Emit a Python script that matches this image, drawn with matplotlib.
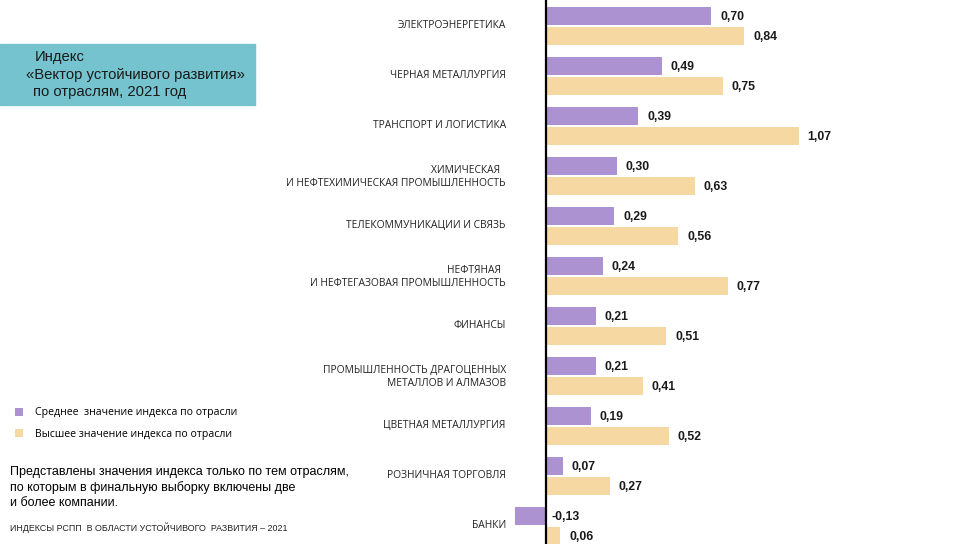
import numpy as np
import matplotlib
matplotlib.use("Agg")
import matplotlib.pyplot as plt
from matplotlib.patches import Rectangle

categories = [
    "ЭЛЕКТРОЭНЕРГЕТИКА",
    "ЧЕРНАЯ МЕТАЛЛУРГИЯ",
    "ТРАНСПОРТ И ЛОГИСТИКА",
    "ХИМИЧЕСКАЯ  \nИ НЕФТЕХИМИЧЕСКАЯ ПРОМЫШЛЕННОСТЬ",
    "ТЕЛЕКОММУНИКАЦИИ И СВЯЗЬ",
    "НЕФТЯНАЯ  \nИ НЕФТЕГАЗОВАЯ ПРОМЫШЛЕННОСТЬ",
    "ФИНАНСЫ",
    "ПРОМЫШЛЕННОСТЬ ДРАГОЦЕННЫХ\nМЕТАЛЛОВ И АЛМАЗОВ",
    "ЦВЕТНАЯ МЕТАЛЛУРГИЯ",
    "РОЗНИЧНАЯ ТОРГОВЛЯ",
    "БАНКИ",
]
avg_vals = [0.70, 0.49, 0.39, 0.30, 0.29, 0.24, 0.21, 0.21, 0.19, 0.07, -0.13]
max_vals = [0.84, 0.75, 1.07, 0.63, 0.56, 0.77, 0.51, 0.41, 0.52, 0.27, 0.06]

legend_labels = ["Среднее  значение индекса по отрасли", "Высшее значение индекса по отрасли"]
title_lines = ["Индекс", "«Вектор устойчивого развития»", "по отраслям, 2021 год"]
note = ("Представлены значения индекса только по тем отраслям,\n"
        "по которым в финальную выборку включены две\n"
        "и более компании.")
footer = "ИНДЕКСЫ РСПП  В ОБЛАСТИ УСТОЙЧИВОГО  РАЗВИТИЯ – 2021"

purple = "#ad92d1"
beige = "#f6d9a2"
teal = "#74c3ce"

W, H = 968, 544
fig = plt.figure(figsize=(W / 100, H / 100), dpi=100)

def fx(x):
    return x / W

def fy(y):
    return 1 - y / H

# axes: left edge at 510 px, zero at 546 px, 236 px per unit
left_px = 510
zero_px = 546
scale = 236.0
ax = fig.add_axes([fx(left_px), 0, 1 - fx(left_px), 1])
ax.set_xlim((left_px - zero_px) / scale, (W - zero_px) / scale)
ax.set_ylim(H / 50, 0)

pos = np.arange(len(categories)) + 0.52
bh = 0.36
b1 = ax.barh(pos - 0.2, avg_vals, height=bh, color=purple, label=legend_labels[0])
b2 = ax.barh(pos + 0.2, max_vals, height=bh, color=beige, label=legend_labels[1])
ax.axvline(0, color="black", lw=1.6)

def value_labels(ys, vals):
    for y, v in zip(ys, vals):
        xt = v + 9 / scale if v >= 0 else 5 / scale
        ax.text(xt, y + 0.02, f"{v:.2f}".replace(".", ","), va="center", ha="left",
                fontsize=8.8, fontweight="bold", family="Liberation Sans", color="#1a1a1a")

value_labels(pos - 0.2, avg_vals)
value_labels(pos + 0.2, max_vals)

ax.set_yticks(pos - 0.03)
ax.set_yticklabels(categories, fontsize=7.4, family="Open Sans", color="#222222",
                   multialignment="right")
ax.tick_params(axis="y", length=0, pad=3)
ax.set_xticks([])
for s in ax.spines.values():
    s.set_visible(False)

# title box
fig.add_artist(Rectangle((0, fy(105)), fx(255), 61 / H, transform=fig.transFigure,
                         color=teal, zorder=0))
for (x0, y0), line in zip([(35, 57.5), (26, 75), (33, 92)], title_lines):
    fig.text(fx(x0), fy(y0), line, fontsize=10.7, family="Liberation Sans",
             color="#1a1a1a", va="center", ha="left")

fig.legend(handles=[b1, b2], labels=legend_labels, loc="upper left",
           bbox_to_anchor=(fx(5), fy(398)), frameon=False, handlelength=0.8,
           handleheight=0.8, handletextpad=1.1, labelspacing=0.95,
           prop={"family": "Open Sans", "size": 7.6})

fig.text(fx(10), fy(487.5), note, fontsize=9.0, family="Liberation Sans", color="black",
         va="center", ha="left", linespacing=1.3)
fig.text(fx(10), fy(528), footer, fontsize=6.4, family="Liberation Sans", color="#222222",
         va="center", ha="left")

fig.savefig("out.png", dpi=100)
